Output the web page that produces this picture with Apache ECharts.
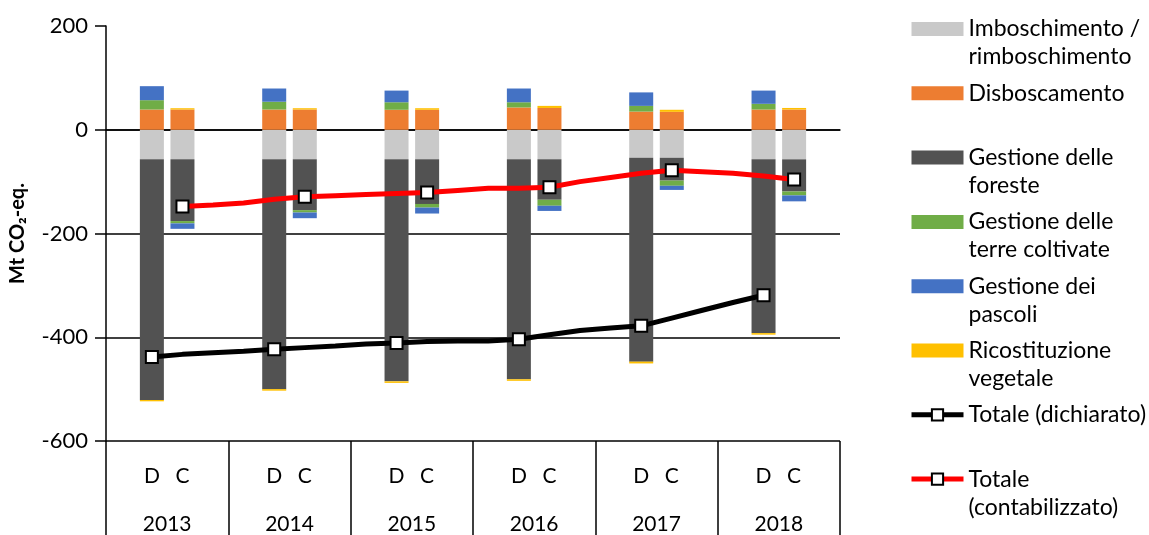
<!DOCTYPE html>
<html>
<head>
<meta charset="utf-8">
<title>LULUCF</title>
<script src="https://cdn.jsdelivr.net/npm/echarts@6/dist/echarts.min.js"></script>
<style>
  html, body { margin: 0; padding: 0; background: #fff; }
  #chart { width: 1149px; height: 535px; }
</style>
</head>
<body>
<div id="chart"></div>
<script>
// Years and the four slots drawn inside each year: gap, D (dichiarato), C (contabilizzato), gap
const years = ['2013', '2014', '2015', '2016', '2017', '2018'];
const slotLabels = ['', 'D', 'C', ''];

// Component values (Mt CO2-eq.) per year, for the D bar and the C bar
const imboschD = [-57, -57, -57, -57, -54, -57];
const imboschC = [-57, -57, -57, -57, -54, -57];
const disboscD = [39, 39, 38.5, 43, 35, 39];
const disboscC = [39, 39, 38.5, 42, 34.5, 39];
const forestD  = [-464, -443, -428, -424, -393, -335];
const forestC  = [-119, -98, -86, -78, -44, -62];
const coltD    = [18, 15, 14.5, 10, 11, 11];
const coltC    = [-4.5, -4.5, -7, -11.5, -10, -7.5];
const pascD    = [27, 25.5, 22.5, 26.5, 26, 25.5];
const pascC    = [-10.5, -11, -11.5, -10, -8, -11.5];
const ricostD  = [-2.5, -3, -3, -3, -3.5, -3];
const ricostC  = [2.5, 2.5, 3, 4, 4, 3];

// Total lines, one value per slot (4 slots per year); null where the line is absent
const totaleDich = [
  null, -438, -433, -430,
  -427, -423, -420, -417,
  -413, -411, -408, -407,
  -407, -404, -395, -387,
  -382, -378, -363, -348,
  -333, -319, null, null
];
const totaleCont = [
  null, null, -148, -145,
  -141, -134, -129, -127,
  -125, -123, -121, -117,
  -113, -113, -111, -100,
  -92, -84, -78, -81,
  -84, -89, -96, null
];

const yTicks = { min: -600, max: 200, step: 200 };

const FONT = 'Lato';
const slotCats = [];
years.forEach(() => slotLabels.forEach(s => slotCats.push(s)));

function slotData(dVals, cVals) {
  const out = [];
  years.forEach((y, i) => { out.push('-', dVals[i], cVals[i], '-'); });
  return out;
}
function lineData(vals, markerSlot) {
  return vals.map((v, idx) => {
    if (v === null) return '-';
    return { value: v, symbol: (idx % 4 === markerSlot) ? 'rect' : 'none' };
  });
}

const barDefs = [
  { name: 'Imboschimento / rimboschimento', color: '#C9C9C9', d: imboschD, c: imboschC },
  { name: 'Disboscamento', color: '#ED7D31', d: disboscD, c: disboscC },
  { name: 'Gestione delle foreste', color: '#525252', d: forestD, c: forestC },
  { name: 'Gestione delle terre coltivate', color: '#70AD47', d: coltD, c: coltC },
  { name: 'Gestione dei pascoli', color: '#4472C4', d: pascD, c: pascC },
  { name: 'Ricostituzione vegetale', color: '#FFC000', d: ricostD, c: ricostC }
];

const legendLines = {
  'Imboschimento / rimboschimento': ['Imboschimento /', 'rimboschimento'],
  'Disboscamento': ['Disboscamento', ''],
  'Gestione delle foreste': ['Gestione delle', 'foreste'],
  'Gestione delle terre coltivate': ['Gestione delle', 'terre coltivate'],
  'Gestione dei pascoli': ['Gestione dei', 'pascoli'],
  'Ricostituzione vegetale': ['Ricostituzione', 'vegetale'],
  'Totale (dichiarato)': ['Totale (dichiarato)', ''],
  'Totale (contabilizzato)': ['Totale', '(contabilizzato)']
};

const series = barDefs.map(b => ({
  name: b.name,
  type: 'bar',
  stack: 'lulucf',
  xAxisIndex: 0,
  barWidth: 24,
  itemStyle: { color: b.color },
  emphasis: { disabled: true },
  data: slotData(b.d, b.c)
}));

const lineCommon = {
  type: 'line',
  xAxisIndex: 0,
  symbolSize: 12,
  showAllSymbol: true,
  connectNulls: false,
  z: 5,
  emphasis: { disabled: true },
  itemStyle: { color: '#ffffff', borderColor: '#000000', borderWidth: 2 }
};
series.push(Object.assign({}, lineCommon, {
  name: 'Totale (dichiarato)',
  symbol: 'rect',
  lineStyle: { color: '#000000', width: 5 },
  data: lineData(totaleDich, 1)
}));
series.push(Object.assign({}, lineCommon, {
  name: 'Totale (contabilizzato)',
  symbol: 'rect',
  lineStyle: { color: '#FF0000', width: 5 },
  data: lineData(totaleCont, 2)
}));

const legendData = barDefs.map(b => ({ name: b.name, icon: 'rect' }))
  .concat([{ name: 'Totale (dichiarato)' }, { name: 'Totale (contabilizzato)' }]);

const option = {
  animation: false,
  backgroundColor: '#ffffff',
  textStyle: { fontFamily: FONT },
  grid: { left: 98, right: 309, top: 26, bottom: 94, containLabel: false },
  legend: {
    orient: 'vertical',
    left: 909,
    top: -13,
    padding: 0,
    itemWidth: 52,
    itemHeight: 14,
    itemGap: -19.7,
    selectedMode: false,
    data: legendData,
    lineStyle: { width: 5 },
    formatter: name => '\n' + legendLines[name].join('\n'),
    textStyle: { fontFamily: FONT, fontSize: 23, lineHeight: 28, color: '#000' }
  },
  xAxis: [
    {
      type: 'category',
      data: slotCats,
      position: 'bottom',
      axisLine: { show: true, lineStyle: { color: '#000', width: 1.5 } },
      axisTick: { show: false },
      axisLabel: { interval: 0, margin: 25, fontSize: 21, color: '#000', fontFamily: FONT },
      splitLine: { show: false }
    },
    {
      type: 'category',
      data: years,
      position: 'bottom',
      axisLine: { show: false },
      axisTick: { show: true, length: 94, lineStyle: { color: '#000', width: 1.5 } },
      axisLabel: { margin: 73, fontSize: 21, color: '#000', fontFamily: FONT },
      splitLine: { show: false }
    }
  ],
  yAxis: {
    type: 'value',
    min: yTicks.min,
    max: yTicks.max,
    interval: yTicks.step,
    axisLine: { show: true, lineStyle: { color: '#000', width: 1.5 } },
    axisTick: { show: true, length: 11, lineStyle: { color: '#000', width: 1.5 } },
    axisLabel: { margin: 18, fontSize: 22, color: '#000', fontFamily: FONT },
    splitLine: {
      show: true,
      lineStyle: { color: ['#000', '#000', '#000', '#000', 'rgba(0,0,0,0)'], width: 1.5 }
    },
    name: 'Mt CO\u2082-eq.',
    nameLocation: 'middle',
    nameGap: 78,
    nameRotate: 90,
    nameTextStyle: { fontFamily: FONT, fontWeight: 'bold', fontSize: 20, color: '#000', padding: [0, 0, 0, 0] }
  },
  series: series
};

const chart = echarts.init(document.getElementById('chart'), null, { renderer: 'canvas' });
chart.setOption(option);
</script>
</body>
</html>
